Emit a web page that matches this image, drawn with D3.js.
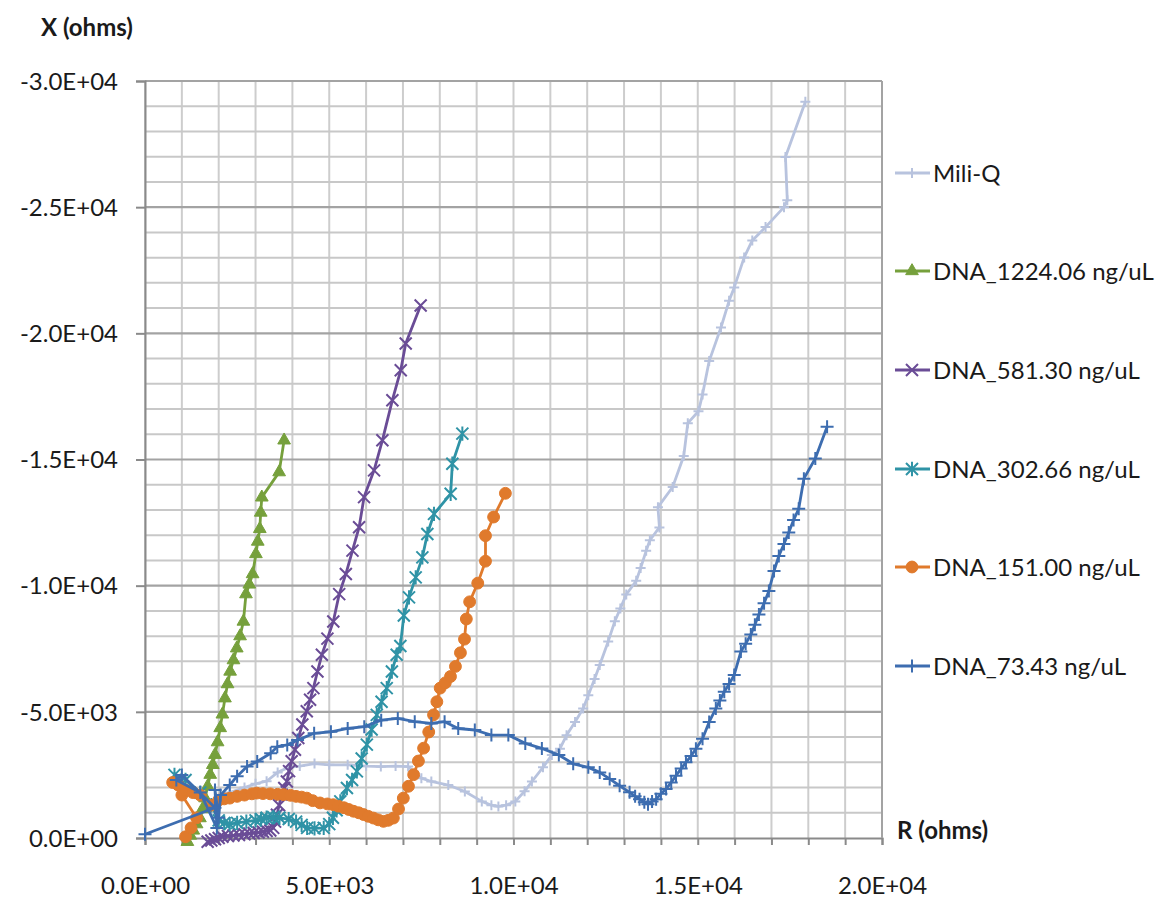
<!DOCTYPE html>
<html>
<head>
<meta charset="utf-8">
<script src="https://cdn.jsdelivr.net/npm/d3@7/dist/d3.min.js"></script>
<style>
  html, body { margin: 0; padding: 0; background: #fff; }
  svg { display: block; font-family: Lato, "Open Sans", sans-serif; }
</style>
</head>
<body>
<svg id="chart" width="1172" height="902"></svg>
<script>
// Impedance (Nyquist) data: [R (ohms), X (ohms)]
const seriesNames = ["Mili-Q", "DNA_1224.06 ng/uL", "DNA_581.30 ng/uL", "DNA_302.66 ng/uL", "DNA_151.00 ng/uL", "DNA_73.43 ng/uL"];

const miliQ = [
  [1900,-1500],[2300,-1800],[2700,-2000],[3000,-2150],[3300,-2250],[3600,-2600],[3900,-2800],[4200,-2850],
  [4600,-2950],[5000,-2900],[5500,-2900],[6000,-2850],[6400,-2830],[6800,-2850],[7140,-2830],[7500,-2370],
  [7770,-2240],[8230,-2100],[8680,-1840],[9140,-1450],[9400,-1300],[9590,-1250],[9800,-1300],[10050,-1450],
  [10300,-1850],[10500,-2240],[10800,-2800],[11040,-3290],[11260,-3540],[11440,-4070],[11670,-4600],
  [11890,-5130],[12030,-5660],[12200,-6300],[12340,-6860],[12570,-7790],[12750,-8590],[12900,-9100],
  [13060,-9650],[13330,-10190],[13450,-10700],[13600,-11380],[13700,-11800],[13960,-12310],[13920,-13110],
  [14320,-13910],[14620,-15140],[14730,-16440],[15020,-16910],[15130,-17580],[15310,-18900],[15630,-20230],
  [15850,-21290],[15990,-21820],[16260,-23010],[16480,-23680],[16840,-24210],[17340,-25000],[17430,-25270],
  [17380,-26990],[17920,-29180]
];

const dna1224 = [
  [1150,150],[1230,-100],[1310,-300],[1400,-550],[1490,-790],[1560,-1150],[1630,-1580],[1700,-2050],
  [1770,-2510],[1840,-2900],[1900,-3300],[1970,-3800],[2040,-4360],[2100,-4900],[2170,-5540],[2240,-6100],
  [2310,-6600],[2400,-7050],[2490,-7520],[2580,-8000],[2670,-8580],[2740,-9665],[2830,-10050],[2920,-10460],
  [3010,-11255],[3060,-11750],[3115,-12250],[3140,-12900],[3170,-13500],[3640,-14500],[3775,-15760]
];

const dna581 = [
  [1700,150],[1800,100],[1900,50],[2000,0],[2100,-50],[2250,-80],[2400,-100],[2550,-120],[2700,-150],
  [2830,-180],[2950,-200],[3080,-220],[3200,-250],[3300,-280],[3400,-300],[3480,-400],
  [3530,-650],[3580,-920],[3640,-1300],[3710,-1720],[3780,-1980],[3850,-2240],[3910,-2650],[3980,-3040],
  [4070,-3500],[4160,-3960],[4270,-4500],[4390,-5020],[4480,-5480],[4570,-5940],[4680,-6600],[4800,-7260],
  [4950,-7900],[5110,-8580],[5270,-9665],[5450,-10460],[5630,-11390],[5810,-12315],[5945,-13510],
  [6216,-14570],[6442,-15760],[6713,-17350],[6940,-18540],[7075,-19600],[7480,-21100]
];

const dna302 = [
  [800,-2500],[1100,-2300],[1500,-1800],[1800,-1300],[2000,-700],[2150,-600],[2300,-550],[2500,-600],
  [2750,-650],[3000,-700],[3150,-750],[3300,-800],[3480,-820],[3650,-800],[3900,-750],[4100,-650],
  [4250,-520],[4400,-400],[4600,-380],[4850,-400],[5000,-550],[5100,-800],[5200,-1100],
  [5300,-1450],[5480,-1980],[5620,-2300],[5750,-2640],[5880,-3150],[6020,-3700],[6150,-4300],[6290,-4880],
  [6420,-5400],[6560,-5940],[6700,-6600],[6830,-7260],[6930,-7610],[7024,-8820],[7165,-9535],[7346,-10330],
  [7527,-11120],[7662,-12050],[7843,-12845],[8295,-13640],[8340,-14830],[8612,-16025]
];

const dna151 = [
  [1100,-50],[1250,-400],[1400,-800],[1000,-1700],[750,-2200],[900,-2100],[1100,-1900],[1300,-1800],
  [1500,-1700],[1800,-1300],[2000,-1500],[2150,-1550],[2300,-1580],[2500,-1650],[2700,-1700],[2900,-1750],
  [3030,-1780],[3200,-1760],[3400,-1750],[3600,-1730],[3760,-1720],[3950,-1690],[4100,-1650],[4250,-1620],
  [4390,-1580],[4550,-1480],[4750,-1390],[4950,-1350],[5110,-1320],[5250,-1260],[5400,-1200],[5530,-1130],
  [5660,-1060],[5800,-1000],[5930,-930],[6060,-860],[6200,-790],[6330,-720],[6470,-660],[6600,-700],
  [6740,-790],[6880,-1150],[7010,-1580],[7150,-2050],[7290,-2510],[7420,-3050],[7560,-3560],[7700,-4200],
  [7830,-4880],[7920,-5400],[8010,-5940],[8150,-6150],[8290,-6400],[8425,-6800],[8560,-7340],[8670,-7880],
  [8720,-8680],[8810,-9360],[9030,-10100],[9240,-10970],[9240,-11980],[9460,-12720],[9780,-13660]
];

const dna73 = [
  [0,-150],[1900,-1200],[1000,-2500],[850,-2300],[1500,-1800],[1950,-400],[1900,-1900],[2000,-800],
  [2050,-1700],[2300,-2100],[2500,-2450],[2770,-2830],[3045,-3030],[3410,-3360],[3590,-3620],[3860,-3690],
  [4140,-3880],[4590,-4150],[5045,-4210],[5500,-4340],[5950,-4410],[6410,-4670],[6860,-4740],[7320,-4610],
  [7770,-4540],[8130,-4610],[8500,-4340],[8950,-4280],[9400,-4080],[9860,-4080],[10320,-3750],[10770,-3550],
  [11230,-3290],[11620,-2940],[12030,-2800],[12340,-2600],[12610,-2340],[12880,-2070],[13150,-1810],
  [13300,-1650],[13420,-1540],[13550,-1420],[13650,-1340],[13760,-1450],[13870,-1540],[14000,-1750],
  [14140,-1940],[14280,-2200],[14410,-2470],[14550,-2750],[14680,-3000],[14820,-3250],[14950,-3535],
  [15130,-3930],[15310,-4600],[15490,-5130],[15600,-5450],[15720,-5800],[15850,-6100],[15990,-6460],
  [16170,-7390],[16300,-7700],[16440,-8060],[16550,-8450],[16660,-8860],[16800,-9300],[16930,-9790],
  [17070,-10580],[17200,-11180],[17340,-11650],[17470,-12110],[17600,-12600],[17740,-13050],[17880,-14240],
  [18190,-15040],[18510,-16300]
];

const xTicks = [0, 5000, 10000, 15000, 20000];
const yTicks = [0, -5000, -10000, -15000, -20000, -25000, -30000];
const xAxisTitle = "R (ohms)";
const yAxisTitle = "X (ohms)";

const colors = ["#b8c3de", "#76a03c", "#6a4c96", "#2f93a6", "#e07a2c", "#3d6db0"];
const markers = ["plus", "triangle", "x", "star", "circle", "plus"];
const datasets = [miliQ, dna1224, dna581, dna302, dna151, dna73];

// Plot area
const plotL = 145, plotR = 882, plotT = 81, plotB = 838;
const svg = d3.select("#chart");

const x = d3.scaleLinear().domain([0, 20000]).range([plotL, plotR]);
const y = d3.scaleLinear().domain([0, -30000]).range([plotB, plotT]);

// Scientific label like 5.0E+03, with an ASCII hyphen for negatives
const fmtExp = d3.formatLocale({ decimal: ".", thousands: ",", grouping: [3], currency: ["", ""], minus: "-" }).format(".1e");
function sci(v) {
  if (v === 0) return "0.0E+00";
  const [m, e] = fmtExp(v).split("e");
  const sign = e[0] === "-" ? "-" : "+";
  const ex = Math.abs(+e).toString().padStart(2, "0");
  return m + "E" + sign + ex;
}

// Grid
const grid = svg.append("g");
const xMinor = d3.range(0, 20001, 1000);
const yMinor = d3.range(0, -30001, -1000);
grid.selectAll("line.v").data(xMinor).join("line")
  .attr("x1", d => x(d)).attr("x2", d => x(d))
  .attr("y1", plotT).attr("y2", plotB)
  .attr("stroke", "#cdcdcd").attr("stroke-width", 2);
grid.selectAll("line.h").data(yMinor.filter(d => d % 5000 !== 0)).join("line")
  .attr("x1", plotL).attr("x2", plotR)
  .attr("y1", d => y(d)).attr("y2", d => y(d))
  .attr("stroke", "#c8c8c8").attr("stroke-width", 2);
grid.selectAll("line.hm").data(yTicks.filter(d => d !== 0)).join("line")
  .attr("x1", plotL).attr("x2", plotR)
  .attr("y1", d => y(d)).attr("y2", d => y(d))
  .attr("stroke", "#a3a3a3").attr("stroke-width", 2.2);

// Axes
const xAxis = d3.axisBottom(x).tickValues(xMinor).tickSize(7).tickFormat(d => xTicks.includes(d) ? sci(d) : "");
const gx = svg.append("g").attr("transform", `translate(0,${plotB})`).call(xAxis);
gx.select(".domain").attr("stroke", "#8a8a8a").attr("stroke-width", 2);
gx.selectAll(".tick line").attr("stroke", "#8a8a8a").attr("stroke-width", 2);
gx.selectAll(".tick text").attr("font-size", 24).attr("fill", "#1a1a1a")
  .attr("font-family", "Lato, sans-serif").attr("dy", 0).attr("y", 56);

const yAxis = d3.axisLeft(y).tickValues(yTicks).tickSize(9).tickFormat(sci);
const gy = svg.append("g").attr("transform", `translate(${plotL},0)`).call(yAxis);
gy.select(".domain").attr("stroke", "#8a8a8a").attr("stroke-width", 2);
gy.selectAll(".tick line").attr("stroke", "#8a8a8a").attr("stroke-width", 2);
gy.selectAll(".tick text").attr("font-size", 24).attr("fill", "#1a1a1a")
  .attr("font-family", "Lato, sans-serif").attr("x", -27).attr("dy", "0.34em");

// Right border of the plot
svg.append("line").attr("x1", plotR).attr("x2", plotR).attr("y1", plotT).attr("y2", plotB)
  .attr("stroke", "#a3a3a3").attr("stroke-width", 2);

// Axis titles
svg.append("text").attr("x", 41).attr("y", 36).attr("font-size", 24).attr("font-weight", "bold")
  .attr("fill", "#1a1a1a").text(yAxisTitle);
svg.append("text").attr("x", 897).attr("y", 839).attr("font-size", 24).attr("font-weight", "bold")
  .attr("fill", "#1a1a1a").text(xAxisTitle);

// Marker shapes
function markerPath(type, s) {
  switch (type) {
    case "plus": return `M${-s},0H${s}M0,${-s}V${s}`;
    case "x": return `M${-s},${-s}L${s},${s}M${-s},${s}L${s},${-s}`;
    case "star": return `M${-s},${-s}L${s},${s}M${-s},${s}L${s},${-s}M0,${-s * 1.2}V${s * 1.2}`;
    case "triangle": return d3.symbol(d3.symbolTriangle, 70)();
    case "circle": return d3.symbol(d3.symbolCircle, 110)();
  }
}
const markerSize = [5, 0, 6, 6, 0, 6.5];

const line = d3.line().x(d => x(d[0])).y(d => y(d[1]));
const plot = svg.append("g");

datasets.forEach((data, i) => {
  const g = plot.append("g");
  g.append("path").datum(data).attr("d", line)
    .attr("fill", "none").attr("stroke", colors[i])
    .attr("stroke-width", 2.8).attr("stroke-linejoin", "round");
  const filled = markers[i] === "triangle" || markers[i] === "circle";
  g.selectAll("path.m").data(data).join("path")
    .attr("transform", d => `translate(${x(d[0])},${y(d[1])})`)
    .attr("d", markerPath(markers[i], markerSize[i]))
    .attr("fill", filled ? colors[i] : "none")
    .attr("stroke", colors[i])
    .attr("stroke-width", filled ? 1 : 2);
});

// Legend
const legendY = [173, 271, 370, 469, 567, 666];
const lg = svg.append("g");
seriesNames.forEach((name, i) => {
  const yy = legendY[i];
  lg.append("line").attr("x1", 895).attr("x2", 930).attr("y1", yy).attr("y2", yy)
    .attr("stroke", colors[i]).attr("stroke-width", 2.8);
  const filled = markers[i] === "triangle" || markers[i] === "circle";
  lg.append("path").attr("transform", `translate(912,${yy})`)
    .attr("d", markerPath(markers[i], markerSize[i]))
    .attr("fill", filled ? colors[i] : "none")
    .attr("stroke", colors[i]).attr("stroke-width", filled ? 1 : 2);
  lg.append("text").attr("x", 933).attr("y", yy).attr("dy", "0.36em")
    .attr("font-size", 24).attr("fill", "#1a1a1a").text(name);
});
</script>
</body>
</html>
